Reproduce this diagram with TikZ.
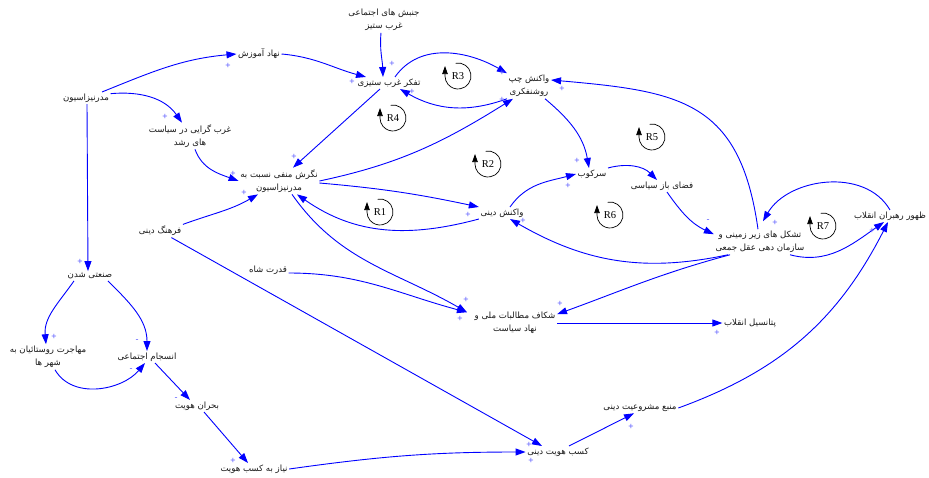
\documentclass[tikz,border=0pt]{standalone}
\usepackage{fontspec}
\setmainfont{Liberation Serif}
\newfontfamily\fafont[Script=Arabic]{DejaVu Sans}
\newfontfamily\plusfont{Liberation Sans}
\TeXXeTstate=1
\usetikzlibrary{arrows.meta}
\newcommand{\fa}[1]{\beginR #1\endR}
\definecolor{polc}{RGB}{90,90,255}
\definecolor{txtc}{RGB}{25,25,25}
\begin{document}
\begin{tikzpicture}[x=1pt,y=1pt,
  lbl/.style={font=\fafont\fontsize{8.6}{13.5}\selectfont, align=center, inner sep=1.5pt, text=txtc},
  cl/.style={draw=blue, line width=0.9pt, -{Triangle[length=10pt,width=7pt]}},
  pol/.style={font=\plusfont\fontsize{9}{9}\selectfont, text=polc, inner sep=0pt},
  loopc/.style={draw=black, line width=0.7pt, -{Triangle[length=8pt,width=5.5pt]}},
  looplbl/.style={font=\fontsize{10.5}{10.5}\selectfont, inner sep=0pt}
]
\fill[white] (0,0) rectangle (929,-477);
\useasboundingbox (0,0) rectangle (929,-477);

% variables
\node[lbl] (mod) at (86,-98) {\fa{مدرنیزاسیون}};
\node[lbl] (edu) at (259,-54) {\fa{نهاد آموزش}};
\node[lbl] (gharbg) at (190,-136) {\fa{غرب گرایی در سیاست}\\\fa{های رشد}};
\node[lbl] (jonbesh) at (384,-20) {\fa{جنبش های اجتماعی}\\\fa{غرب ستیز}};
\node[lbl] (tafakor) at (389,-83) {\fa{تفکر غرب ستیزی}};
\node[lbl] (chap) at (529,-86) {\fa{واکنش چپ}\\\fa{روشنفکری}};
\node[lbl] (negaresh) at (279,-181) {\fa{نگرش منفی نسبت به}\\\fa{مدرنیزاسیون}};
\node[lbl] (dini) at (502,-213) {\fa{واکنش دینی}};
\node[lbl] (sarkob) at (592,-174) {\fa{سرکوب}};
\node[lbl] (faza) at (662,-186) {\fa{فضای باز سیاسی}};
\node[lbl] (tashakol) at (760,-242) {\fa{تشکل های زیر زمینی و}\\\fa{سازمان دهی عقل جمعی}};
\node[lbl] (zohor) at (890,-216) {\fa{ظهور رهبران انقلاب}};
\node[lbl] (farhang) at (160,-231) {\fa{فرهنگ دینی}};
\node[lbl] (ghodrat) at (268,-270) {\fa{قدرت شاه}};
\node[lbl] (sanati) at (90,-276) {\fa{صنعتی شدن}};
\node[lbl] (mohajerat) at (48,-357) {\fa{مهاجرت روستائیان به}\\\fa{شهر ها}};
\node[lbl] (ensejam) at (147,-357) {\fa{انسجام اجتماعی}};
\node[lbl] (bohran) at (197,-406) {\fa{بحران هویت}};
\node[lbl] (niaz) at (254,-469) {\fa{نیاز به کسب هویت}};
\node[lbl] (shekaf) at (515,-323) {\fa{شکاف مطالبات ملی و}\\\fa{نهاد سیاست}};
\node[lbl] (potansiel) at (750,-323) {\fa{پتانسیل انقلاب}};
\node[lbl] (manba) at (640,-408) {\fa{منبع مشروعیت دینی}};
\node[lbl] (kasb) at (558,-452) {\fa{کسب هویت دینی}};

% causal links
\draw[cl] ([xshift=16pt]mod.north) to[out=22,in=185] (edu.west);
\draw[cl] (edu.east) to[out=-5,in=165] ([xshift=-23pt]tafakor.north);
\draw[cl] ([xshift=-3pt]jonbesh.south) to[out=-95,in=92] ([xshift=-6pt]tafakor.north);
\draw[cl] ([xshift=6pt]tafakor.north) to[out=55,in=150] (chap.north west);
\draw[cl] (chap.south west) to[out=200,in=-30] ([xshift=11pt]tafakor.south);
\draw[cl] ([xshift=-9pt]tafakor.south) -- ([xshift=14pt]negaresh.north);
\draw[cl] (mod.10) to[out=5,in=125] ([xshift=-8pt]gharbg.north);
\draw[cl] ([xshift=5pt]gharbg.south) to[out=-70,in=160] (negaresh.west);
\draw[cl] (farhang.north east) to[out=20,in=-150] ([xshift=-21pt]negaresh.south);
\draw[cl] (negaresh.east) to[out=12,in=212] ([xshift=-16pt]chap.south);
\draw[cl] ([yshift=-2pt]negaresh.east) to[out=-5,in=168] (dini.north west);
\draw[cl] (dini.south west) to[out=195,in=-35] ([xshift=18pt]negaresh.south);
\draw[cl] ([xshift=13pt]negaresh.south) to[out=-55,in=150] ([xshift=-6pt,yshift=-2pt]shekaf.north west);
\draw[cl] ([yshift=-3pt]ghodrat.east) to[out=0,in=165] ([xshift=-6pt,yshift=-2pt]shekaf.north west);
\draw[cl] ([xshift=-30pt]tashakol.south) to[out=195,in=20] ([yshift=-4pt]shekaf.north east);
\draw[cl] (shekaf.east) -- (potansiel.west);
\draw[cl] (farhang.-30) -- ([xshift=-16pt]kasb.north);
\draw[cl] (niaz.east) to[out=8,in=180] (kasb.west);
\draw[cl] ([xshift=11pt]kasb.north) -- ([xshift=-6pt]manba.south);
\draw[cl] (manba.east) to[out=20,in=-117] ([xshift=-2pt]zohor.south);
\draw[cl] ([xshift=30pt]tashakol.south) to[out=-15,in=-145] ([xshift=-6pt]zohor.south);
\draw[cl] (zohor.north) to[out=120,in=60] ([xshift=3pt,yshift=8pt]tashakol.north);
\draw[cl] ([xshift=-2pt]tashakol.north) to[out=98,in=-5,looseness=1.3] ([yshift=6pt]chap.east);
\draw[cl] ([xshift=16pt]chap.south) to[out=-40,in=100] ([xshift=-3pt]sarkob.north);
\draw[cl] ([xshift=8pt]dini.north) to[out=55,in=195] (sarkob.west);
\draw[cl] (sarkob.north east) to[out=15,in=135] ([xshift=-5pt]faza.north);
\draw[cl] ([xshift=5pt]faza.south) to[out=-55,in=155] ([yshift=-5pt]tashakol.north west);
\draw[cl] ([xshift=-32pt]tashakol.south) to[out=192,in=-30] ([xshift=8pt]dini.south);
\draw[cl] ([xshift=1pt]mod.south) -- ([xshift=-2pt]sanati.north);
\draw[cl] ([xshift=-16pt]sanati.south) to[out=-125,in=95] ([xshift=-2pt]mohajerat.north);
\draw[cl] ([xshift=18pt]sanati.south) to[out=-45,in=90] (ensejam.north);
\draw[cl] ([xshift=7pt]mohajerat.south) to[out=-60,in=-130] ([xshift=-2pt]ensejam.south);
\draw[cl] ([xshift=8pt]ensejam.south) -- ([xshift=-7pt]bohran.north);
\draw[cl] ([xshift=7pt]bohran.south) -- ([xshift=-6pt]niaz.north);

% polarities
\node[pol] (p1) at (228,-66) {+};
\node[pol] (p2) at (352,-82) {+};
\node[pol] (p3) at (392,-64) {+};
\node[pol] (p4) at (502,-73) {+};
\node[pol] (p5) at (412,-92) {+};
\node[pol] (p6) at (294,-157) {+};
\node[pol] (p7) at (165,-117) {+};
\node[pol] (p8) at (233,-174) {+};
\node[pol] (p9) at (244,-193) {+};
\node[pol] (p10) at (502,-100) {+};
\node[pol] (p11) at (468,-215) {+};
\node[pol] (p12) at (523,-221) {+};
\node[pol] (p13) at (466,-300) {+};
\node[pol] (p14) at (460,-319) {+};
\node[pol] (p15) at (560,-304) {+};
\node[pol] (p16) at (717,-333) {+};
\node[pol] (p17) at (529,-445) {+};
\node[pol] (p18) at (531,-461) {+};
\node[pol] (p19) at (631,-427) {+};
\node[pol] (p20) at (872,-231) {+};
\node[pol] (p21) at (775,-223) {+};
\node[pol] (p22) at (562,-89) {+};
\node[pol] (p23) at (577,-161) {+};
\node[pol] (p24) at (568,-186) {+};
\node[pol] (p25) at (708,-221) {-};
\node[pol] (p26) at (80,-262) {+};
\node[pol] (p27) at (54,-337) {+};
\node[pol] (p28) at (137,-341) {-};
\node[pol] (p29) at (131,-370) {-};
\node[pol] (p30) at (176,-399) {-};
\node[pol] (p31) at (233,-461) {+};

% loop markers
\node[looplbl] (r1) at (380,-212) {R1};
\draw[loopc] (r1.center) ++(100:13) arc (100:-180:13) -- ++(0,10);
\node[looplbl] (r2) at (488,-164) {R2};
\draw[loopc] (r2.center) ++(100:13) arc (100:-180:13) -- ++(0,10);
\node[looplbl] (r3) at (458,-76) {R3};
\draw[loopc] (r3.center) ++(100:13) arc (100:-180:13) -- ++(0,10);
\node[looplbl] (r4) at (393,-118) {R4};
\draw[loopc] (r4.center) ++(100:13) arc (100:-180:13) -- ++(0,10);
\node[looplbl] (r5) at (652,-137) {R5};
\draw[loopc] (r5.center) ++(100:13) arc (100:-180:13) -- ++(0,10);
\node[looplbl] (r6) at (610,-215) {R6};
\draw[loopc] (r6.center) ++(100:13) arc (100:-180:13) -- ++(0,10);
\node[looplbl] (r7) at (823,-226) {R7};
\draw[loopc] (r7.center) ++(100:13) arc (100:-180:13) -- ++(0,10);
\end{tikzpicture}
\end{document}
